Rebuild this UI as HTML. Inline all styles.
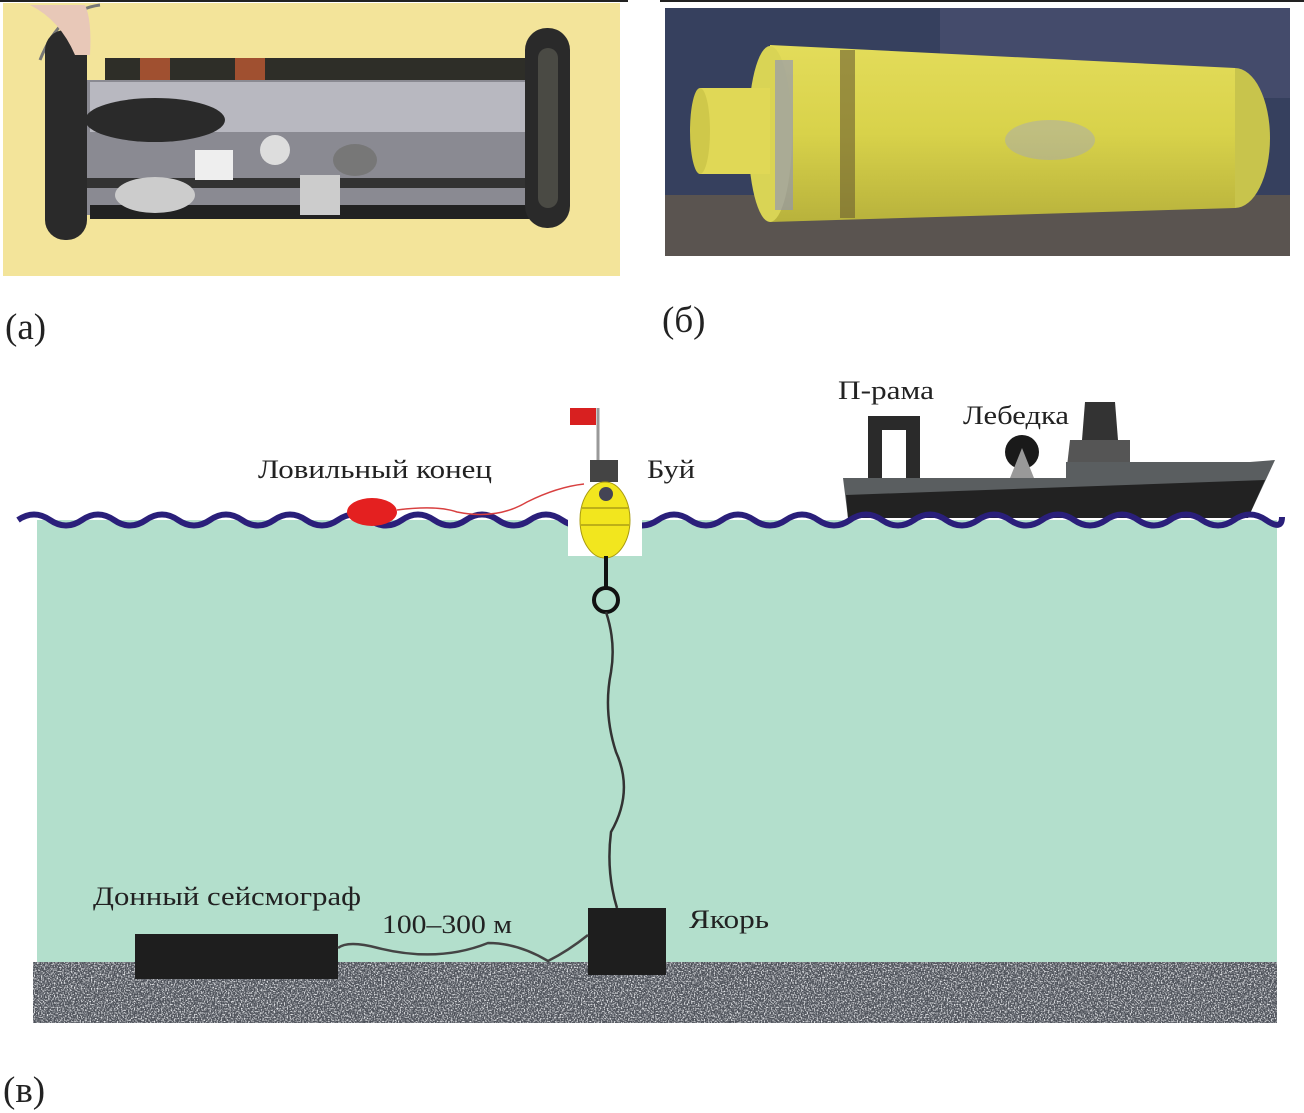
<!DOCTYPE html>
<html><head><meta charset="utf-8"><style>
html,body{margin:0;padding:0;background:#fff;}
svg{display:block;}
text{font-family:"Liberation Serif","Noto Serif CJK SC",serif;fill:#222;}
</style></head><body>
<svg width="1304" height="1113" viewBox="0 0 1304 1113" xmlns="http://www.w3.org/2000/svg">
<defs>
<filter id="nz" x="0" y="0" width="100%" height="100%">
<feTurbulence type="fractalNoise" baseFrequency="0.7" numOctaves="2" seed="3"/>
<feColorMatrix type="matrix" values="0 0 0 0 0.85  0 0 0 0 0.86  0 0 0 0 0.88  3.5 0 0 0 -1.6"/>
</filter>
<linearGradient id="cyl" x1="0" y1="0" x2="0" y2="1">
<stop offset="0" stop-color="#e3dc5a"/><stop offset="0.5" stop-color="#d8d24a"/><stop offset="1" stop-color="#b8b23c"/>
</linearGradient>
</defs>
<rect x="0" y="0" width="628" height="2" fill="#222"/>
<rect x="660" y="0" width="644" height="2" fill="#222"/>
<!-- photo a -->
<rect x="3" y="3" width="617" height="273" fill="#f3e49a"/>
<path d="M40 60 Q60 10 100 5" stroke="#777" stroke-width="3" fill="none"/>
<rect x="105" y="58" width="430" height="25" fill="#2e2e28"/>
<rect x="140" y="58" width="30" height="25" fill="#a05030"/>
<rect x="235" y="58" width="30" height="25" fill="#a05030"/>
<rect x="80" y="80" width="480" height="135" fill="#8a8a92"/>
<rect x="90" y="82" width="455" height="50" fill="#b8b8c0"/>
<ellipse cx="155" cy="120" rx="70" ry="22" fill="#2a2a2a"/>
<rect x="80" y="178" width="480" height="10" fill="#333"/>
<rect x="90" y="205" width="450" height="14" fill="#222"/>
<ellipse cx="155" cy="195" rx="40" ry="18" fill="#ccc"/>
<rect x="195" y="150" width="38" height="30" fill="#eee"/>
<circle cx="275" cy="150" r="15" fill="#ddd"/>
<ellipse cx="355" cy="160" rx="22" ry="16" fill="#777"/>
<rect x="300" y="175" width="40" height="40" fill="#ccc"/>
<rect x="45" y="30" width="42" height="210" rx="20" fill="#2a2a2a"/>
<rect x="525" y="28" width="45" height="200" rx="22" fill="#2a2a2a"/>
<rect x="538" y="48" width="20" height="160" rx="10" fill="#4a4a44"/>
<path d="M30 5 Q60 20 75 55 L90 55 Q92 20 85 5Z" fill="#e8c8b8"/>
<!-- photo b -->
<rect x="665" y="8" width="625" height="248" fill="#36405e"/>
<rect x="665" y="195" width="625" height="61" fill="#5a5450"/>
<rect x="940" y="8" width="350" height="90" fill="#4a5070" opacity="0.7"/>
<ellipse cx="1235" cy="138" rx="35" ry="70" fill="#c8c44c"/>
<polygon points="770,45 1235,68 1235,208 770,222" fill="url(#cyl)"/>
<ellipse cx="770" cy="134" rx="22" ry="88" fill="#d9d455"/>
<rect x="700" y="88" width="70" height="86" fill="#e0d856"/>
<ellipse cx="700" cy="131" rx="10" ry="43" fill="#cfc84a"/>
<rect x="840" y="50" width="15" height="168" fill="#6a5e30" opacity="0.6"/>
<rect x="775" y="60" width="18" height="150" fill="#8a90c0" opacity="0.6"/>
<ellipse cx="1050" cy="140" rx="45" ry="20" fill="#9aa0d0" opacity="0.4"/>
<text x="5" y="339" font-size="37">(а)</text>
<text x="662" y="332" font-size="37">(б)</text>
<!-- water -->
<rect x="37" y="520" width="1240" height="445" fill="#b3dfcc"/>
<!-- seabed -->
<rect x="33" y="962" width="1244" height="61" fill="#4e525a"/>
<rect x="33" y="962" width="1244" height="61" filter="url(#nz)"/>
<!-- ship -->
<rect x="868" y="416" width="52" height="62" fill="#2a2a2a"/>
<rect x="882" y="430" width="24" height="48" fill="#fff"/>
<circle cx="1022" cy="452" r="17" fill="#1a1a1a"/>
<polygon points="1022,448 1010,478 1034,478" fill="#999"/>
<polygon points="1085,402 1115,402 1118,440 1082,440" fill="#333"/>
<polygon points="1070,440 1130,440 1130,470 1066,475" fill="#555"/>
<polygon points="1066,462 1250,462 1275,460 1248,518 848,518 843,478 1066,478" fill="#5a5e60"/>
<polygon points="846,495 1265,480 1248,518 848,518" fill="#222"/>
<!-- wave -->
<path d="M18 520 q16 -11 32 0 t32 0 t32 0 t32 0 t32 0 t32 0 t32 0 t32 0 t32 0 t32 0 t32 0 t32 0 t32 0 t32 0 t32 0 t32 0 t32 0 t32 0 t32 0 t32 0 t32 0 t32 0 t32 0 t32 0 t32 0 t32 0 t32 0 t32 0 t32 0 t32 0 t32 0 t32 0 t32 0 t32 0 t32 0 t32 0 t32 0 t32 0 t32 0 t16 -3" stroke="#2a1f7a" stroke-width="6" fill="none"/>
<!-- buoy -->
<rect x="568" y="487" width="74" height="69" fill="#fff"/>
<line x1="598" y1="408" x2="598" y2="470" stroke="#999" stroke-width="3"/>
<rect x="570" y="408" width="26" height="17" fill="#d82020"/>
<rect x="590" y="460" width="28" height="22" fill="#444"/>
<ellipse cx="605" cy="520" rx="25" ry="38" fill="#f2e61e" stroke="#a89a10" stroke-width="1"/>
<line x1="582" y1="508" x2="628" y2="508" stroke="#887a10"/>
<line x1="581" y1="525" x2="629" y2="525" stroke="#887a10"/>
<circle cx="606" cy="494" r="7" fill="#445"/>
<line x1="606" y1="556" x2="606" y2="590" stroke="#111" stroke-width="4"/>
<circle cx="606" cy="600" r="12" fill="none" stroke="#111" stroke-width="4"/>
<path d="M606 612 q10 30 5 60 q-8 40 5 80 q18 40 -5 80 q-5 40 6 76" stroke="#333" stroke-width="2.5" fill="none"/>
<path d="M397 510 q40 -5 60 2 q40 8 70 -10 q30 -15 57 -18" stroke="#d84040" stroke-width="1.5" fill="none"/>
<ellipse cx="372" cy="512" rx="25" ry="14" fill="#e42020"/>
<rect x="588" y="908" width="78" height="67" fill="#1e1e1e"/>
<rect x="135" y="934" width="203" height="45" fill="#1e1e1e"/>
<path d="M338 948 q10 -8 40 0 q60 15 110 -5 q30 0 60 18 q20 -10 40 -26" stroke="#444" stroke-width="2.5" fill="none"/>
<text x="258" y="478" font-size="26" textLength="234" lengthAdjust="spacingAndGlyphs">Ловильный конец</text>
<text x="647" y="478" font-size="26" textLength="48" lengthAdjust="spacingAndGlyphs">Буй</text>
<text x="838" y="399" font-size="26" textLength="96" lengthAdjust="spacingAndGlyphs">П-рама</text>
<text x="963" y="424" font-size="26" textLength="106" lengthAdjust="spacingAndGlyphs">Лебедка</text>
<text x="93" y="905" font-size="26" textLength="268" lengthAdjust="spacingAndGlyphs">Донный сейсмограф</text>
<text x="382" y="933" font-size="26" textLength="130" lengthAdjust="spacingAndGlyphs">100–300 м</text>
<text x="689" y="928" font-size="26" textLength="80" lengthAdjust="spacingAndGlyphs">Якорь</text>
<text x="3" y="1102" font-size="37">(в)</text>
</svg>
</body></html>
